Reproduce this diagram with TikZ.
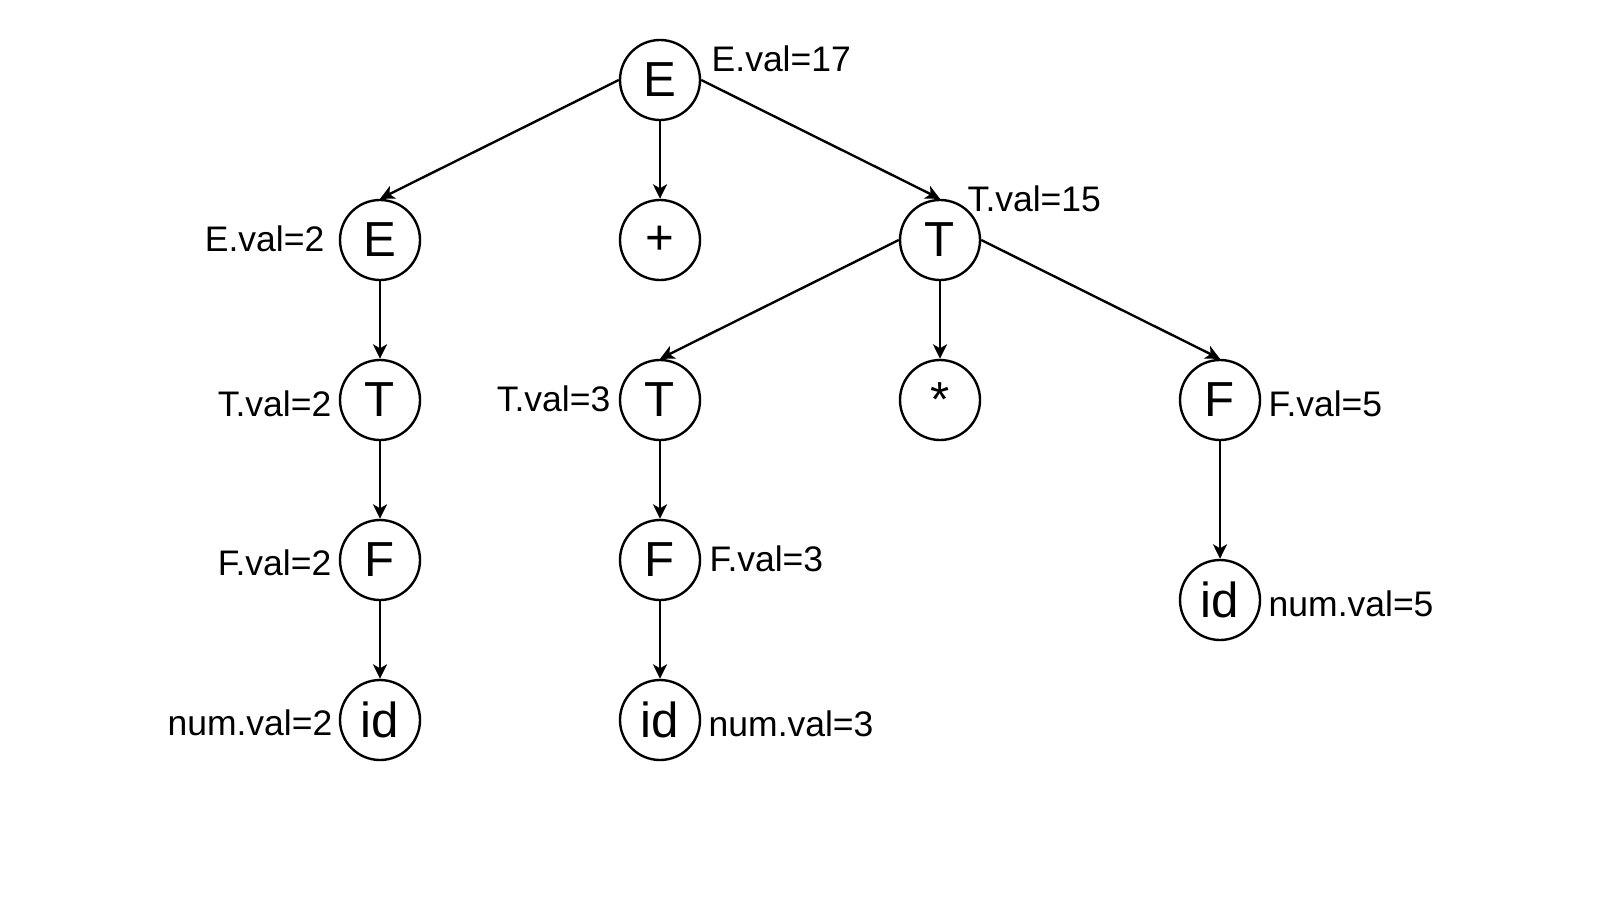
\documentclass[tikz,border=0pt]{standalone}
\usepackage{fontspec}
\setmainfont{Liberation Sans}
\usetikzlibrary{arrows.meta}
\tikzset{
	sym/.style={draw, circle, minimum size=0.8cm, inner sep=0pt, line width=0.68pt, font=\fontsize{14}{16}\selectfont},
	val/.style={inner sep=0pt, font=\fontsize{10.1}{12}\selectfont},
	edge/.style={-{Stealth[length=1.45mm, width=1.4mm, inset=0.4mm]}, line width=0.68pt}
}

\begin{document}
\begin{tikzpicture}
			%%%%% START %%%%%
			
			\useasboundingbox (0, 0) rectangle (16, 9);
			
			\node[sym] (eroot) at (6.6, 8.2) {E};
			
			\node[sym] (eleft) at (3.8, 6.6) {E};
			\node[sym] (plus) at (6.6, 6.6) {+};
			\node[sym] (tright) at (9.4, 6.6) {T};
			
			\node[sym] (tleft) at (3.8, 5) {T};
			\node[sym] (tmid) at (6.6, 5) {T};
			\node[sym] (times) at (9.4, 5) {*};
			\node[sym] (fright) at (12.2, 5) {F};
			
			\node[sym] (fleft) at (3.8, 3.4) {F};
			\node[sym] (fmid) at (6.6, 3.4) {F};
			\node[sym] (idright) at (12.2, 3) {id};
			
			\node[sym] (idleft) at (3.8, 1.8) {id};
			\node[sym] (idmid) at (6.6, 1.8) {id};
			
			\node[val, anchor=west] (veroot) at (7.11, 8.41) {E.val=17};
			\node[val, anchor=east] (veleft) at (3.25, 6.61) {E.val=2};
			\node[val, anchor=west] (vtright) at (9.67, 7.01) {T.val=15};
			\node[val, anchor=east] (vtleft) at (3.32, 4.96) {T.val=2};
			\node[val, anchor=east] (vtmid) at (6.11, 5.01) {T.val=3};
			\node[val, anchor=west] (vfright) at (12.68, 4.96) {F.val=5};
			\node[val, anchor=east] (vfleft) at (3.32, 3.37) {F.val=2};
			\node[val, anchor=west] (vfmid) at (7.09, 3.41) {F.val=3};
			\node[val, anchor=west] (vidright) at (12.68, 2.96) {num.val=5};
			\node[val, anchor=east] (vidleft) at (3.33, 1.77) {num.val=2};
			\node[val, anchor=west] (vidmid) at (7.08, 1.76) {num.val=3};
			
			\draw[edge] (eroot.west) -- (eleft.north);
			\draw[edge] (eroot.south) -- (plus.north);
			\draw[edge] (eroot.east) -- (tright.north);
			
			\draw[edge] (eleft.south) -- (tleft.north);
			\draw[edge] (tleft.south) -- (fleft.north);
			\draw[edge] (fleft.south) -- (idleft.north);
			
			\draw[edge] (tright.west) -- (tmid.north);
			\draw[edge] (tright.south) -- (times.north);
			\draw[edge] (tright.east) -- (fright.north);
			
			\draw[edge] (tmid.south) -- (fmid.north);
			\draw[edge] (fmid.south) -- (idmid.north);
			\draw[edge] (fright.south) -- (idright.north);
			
			%%%%% END %%%%%
		\end{tikzpicture}
\end{document}
